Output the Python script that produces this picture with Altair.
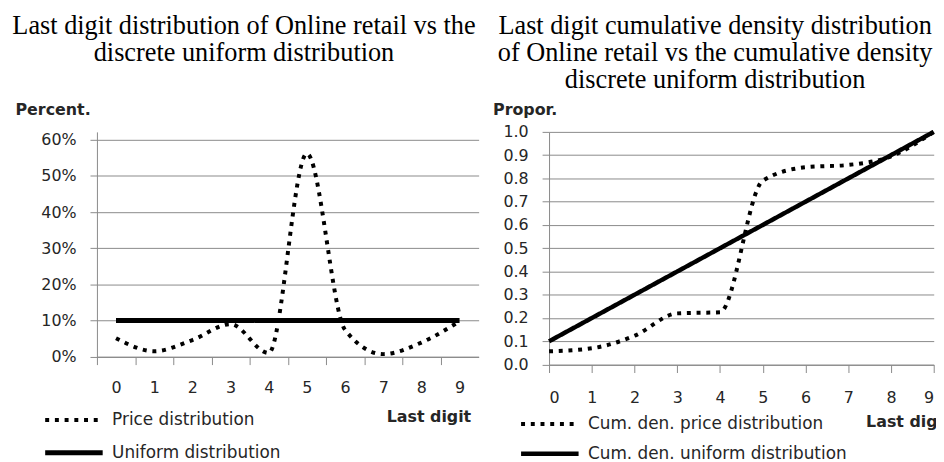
import altair as alt
import pandas as pd

# ---------------- data ----------------
digits = list(range(10))
price_share = [0.051, 0.015, 0.046, 0.090, 0.010, 0.562, 0.074, 0.007, 0.039, 0.098]
uniform_share = [0.10, 0.10, 0.10, 0.10, 0.10, 0.10, 0.10, 0.10, 0.10, 0.10]
cum_price = [0.057, 0.070, 0.124, 0.220, 0.225, 0.790, 0.848, 0.858, 0.895, 1.000]
cum_uniform = [0.1, 0.2, 0.3, 0.4, 0.5, 0.6, 0.7, 0.8, 0.9, 1.0]

left_series = ["Price distribution", "Uniform distribution"]
right_series = ["Cum. den. price distribution", "Cum. den. uniform distribution"]
left_yticks = [0.0, 0.1, 0.2, 0.3, 0.4, 0.5, 0.6]
right_yticks = [0.0, 0.1, 0.2, 0.3, 0.4, 0.5, 0.6, 0.7, 0.8, 0.9, 1.0]

title_left = ["Last digit distribution of Online retail vs the",
              "discrete uniform distribution"]
title_right = ["Last digit cumulative density distribution",
               "of Online retail vs the cumulative density",
               "discrete uniform distribution"]

left_df = pd.DataFrame({
    "digit": digits + digits,
    "value": price_share + uniform_share,
    "series": [left_series[0]] * 10 + [left_series[1]] * 10,
})
right_df = pd.DataFrame({
    "digit": digits + digits,
    "value": cum_price + cum_uniform,
    "series": [right_series[0]] * 10 + [right_series[1]] * 10,
})

FONT = "DejaVu Sans"
GRAY = "#8a8a8a"
TXT = "#262626"
DASH = [[4, 5.8], [1, 0]]


def legend(x, y, rowpad):
    return alt.Legend(
        orient="none", legendX=x, legendY=y, title=None, direction="vertical",
        symbolType="stroke", symbolSize=3364, symbolStrokeColor="black",
        clipHeight=20, rowPadding=rowpad, labelFont=FONT, labelFontSize=17,
        labelColor=TXT, labelOffset=7, labelLimit=400,
    )


# ---------------- left panel ----------------
lw, lh = 385, 226.7
lleg = legend(-54.7, 280.7, 13)
left = alt.Chart(left_df).mark_line(interpolate="monotone", color="black").encode(
    x=alt.X("digit:Q",
            scale=alt.Scale(domain=[-0.5, 9.5], nice=False, zero=False),
            axis=alt.Axis(values=digits, tickOffset=-19.25, labelOffset=19.25,
                          grid=False, tickSize=8, labelPadding=15,
                          title="Last digit", titleX=377, titleY=60,
                          titleAlign="right", titleBaseline="middle")),
    y=alt.Y("value:Q",
            scale=alt.Scale(domain=[0, 0.622], nice=False),
            axis=alt.Axis(values=left_yticks, format=".0%", grid=True,
                          tickSize=7, labelPadding=14, labelOverlap=False,
                          title="Percent.", titleAngle=0, titleX=-82.7, titleY=-18,
                          titleAlign="left", titleBaseline="alphabetic")),
    strokeDash=alt.StrokeDash("series:N",
                              scale=alt.Scale(domain=left_series, range=DASH),
                              legend=lleg),
    strokeWidth=alt.StrokeWidth("series:N",
                                scale=alt.Scale(domain=left_series, range=[4, 5]),
                                legend=lleg),
).properties(
    width=lw, height=lh,
    title=alt.TitleParams(title_left, anchor="middle", frame="group", dx=-44.2, offset=35),
)

# ---------------- right panel ----------------
rw, rh = 388, 234.7
rleg = legend(-30.7, 284.7, 10)
right = alt.Chart(right_df).mark_line(interpolate="monotone", color="black").encode(
    x=alt.X("digit:Q",
            scale=alt.Scale(domain=[0, 9], nice=False, zero=False),
            axis=alt.Axis(values=digits, grid=False, tickSize=8, labelPadding=17,
                          title="Last digit", titleX=319.3, titleY=57.3,
                          titleAlign="left", titleBaseline="middle")),
    y=alt.Y("value:Q",
            scale=alt.Scale(domain=[0, 1], nice=False),
            axis=alt.Axis(values=right_yticks, format=".1f", grid=True,
                          tickSize=7, labelPadding=14, labelOverlap=False,
                          title="Propor.", titleAngle=0, titleX=-57, titleY=-18,
                          titleAlign="left", titleBaseline="alphabetic")),
    strokeDash=alt.StrokeDash("series:N",
                              scale=alt.Scale(domain=right_series, range=DASH),
                              legend=rleg),
    strokeWidth=alt.StrokeWidth("series:N",
                                scale=alt.Scale(domain=right_series, range=[4, 4.5]),
                                legend=rleg),
).properties(
    width=rw, height=rh,
    title=alt.TitleParams(title_right, anchor="middle", frame="group", dx=-26.5, offset=7.5),
)

chart = alt.hconcat(left, right, spacing=14).resolve_scale(
    x="independent", y="independent", strokeDash="independent", strokeWidth="independent"
).properties(
    autosize=alt.AutoSizeParams(type="none"),
).configure(
    padding={"left": 89.7, "top": 123, "right": 846.3, "bottom": 331}
).configure_view(
    stroke=None
).configure_axis(
    labelFont=FONT, labelFontSize=16, labelColor=TXT,
    titleFont=FONT, titleFontSize=16, titleFontWeight="bold", titleColor=TXT,
    domainColor=GRAY, tickColor=GRAY, gridColor=GRAY, domainWidth=1, tickWidth=1,
    gridWidth=1,
).configure_title(
    font="Liberation Serif", fontSize=26.5, fontWeight="normal", color="black",
    lineHeight=27.5,
).configure_legend(
    padding=0,
)

chart.save("out.html", embed_options={"renderer": "svg", "actions": False})
